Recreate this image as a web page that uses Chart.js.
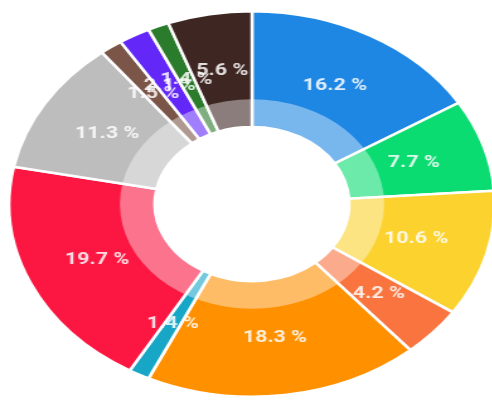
<!DOCTYPE html>
<html>
<head>
<meta charset="utf-8">
<script src="https://cdn.jsdelivr.net/npm/chart.js@4"></script>
<style>
  html, body { margin: 0; padding: 0; background: #fff; overflow: hidden; }
  #pie { display: block; }
</style>
</head>
<body>
<canvas id="pie" width="400" height="400" style="width:504px;height:400px"></canvas>
<script>
// slices, clockwise from 12 o'clock
var shares = [16.2, 7.7, 10.6, 4.2, 18.3, 1.4, 19.7, 11.3, 1.5, 2.1, 1.4, 5.6];
var colors = ['#1e86e3', '#0bdc72', '#fcd22f', '#f9743f', '#ff9000', '#17a6c6',
              '#fb1742', '#bdbdbd', '#7a5548', '#6328f8', '#2b7b2c', '#3e2723'];

var bandShare = 0.24; // pale inner band, part of the ring thickness

var ringAndLabels = {
    id: 'ringAndLabels',
    afterDatasetsDraw: function (chart) {
        var ctx = chart.ctx;
        var meta = chart.getDatasetMeta(0);
        var a = meta.data[0];
        var inner = a.innerRadius, outer = a.outerRadius;
        var bandOuter = inner + (outer - inner) * bandShare;
        ctx.save();
        ctx.beginPath();
        ctx.arc(a.x, a.y, bandOuter, 0, Math.PI * 2);
        ctx.arc(a.x, a.y, inner, 0, Math.PI * 2, true);
        ctx.fillStyle = 'rgba(255,255,255,0.4)';
        ctx.fill();

        ctx.font = 'bold 17px Roboto';
        ctx.fillStyle = 'rgba(255,255,255,0.85)';
        ctx.textAlign = 'center';
        ctx.textBaseline = 'middle';
        meta.data.forEach(function (arc, i) {
            var p = arc.getCenterPoint();
            ctx.fillText(shares[i].toFixed(1) + ' %', p.x, p.y);
        });
        ctx.restore();
    }
};

new Chart(document.getElementById('pie').getContext('2d'), {
    type: 'doughnut',
    data: {
        labels: shares.map(function (s, i) { return 'S' + (i + 1); }),
        datasets: [{
            data: shares,
            backgroundColor: colors,
            borderColor: '#ffffff',
            borderWidth: 2.5,
            hoverOffset: 0
        }]
    },
    options: {
        responsive: false,
        animation: false,
        cutout: '40%',
        layout: { padding: { top: 10, bottom: 2, left: 6, right: 6 } },
        plugins: {
            legend: { display: false },
            tooltip: { enabled: false }
        }
    },
    plugins: [ringAndLabels]
});
</script>
</body>
</html>
